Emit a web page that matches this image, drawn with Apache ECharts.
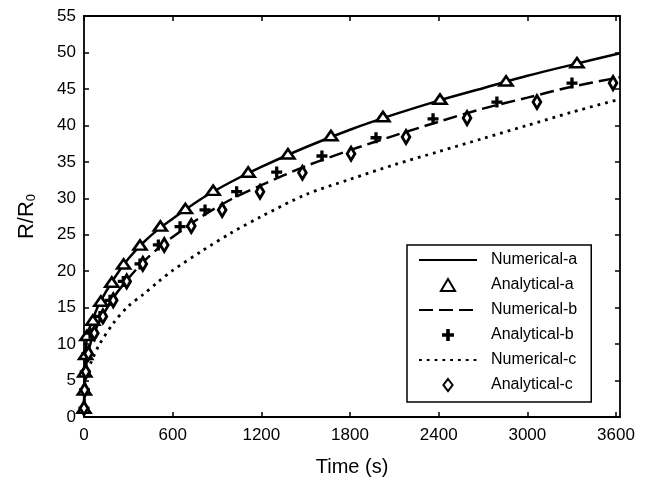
<!DOCTYPE html>
<html>
<head>
<meta charset="utf-8">
<script src="https://cdn.jsdelivr.net/npm/echarts@6/dist/echarts.min.js"></script>
<style>
html, body { margin: 0; padding: 0; background: #fff; }
#main { width: 650px; height: 477px; }
</style>
</head>
<body>
<div id="main"></div>
<script>
var myChart = echarts.init(document.getElementById('main'));

// x tick labels (s)
var xTicks = [0, 600, 1200, 1800, 2400, 3000, 3600];

// numerical curves, sampled times
var tLine = [0, 5, 20, 50, 100, 200, 300, 400, 500, 600, 800, 1000, 1200, 1500, 1800, 2100, 2400, 2700, 3000, 3300, 3627];
var numA = [1, 6, 11, 12.9, 15.4, 18.9, 21.7, 23.9, 25.7, 27.2, 30.0, 32.3, 34.3, 37.0, 39.4, 41.5, 43.4, 45.1, 46.8, 48.3, 49.9];
var numB = [1, 4.4, 7.8, 10.5, 12.9, 16.4, 19.0, 21.25, 23.1, 24.7, 27.55, 29.9, 31.8, 34.4, 36.6, 38.6, 40.5, 42.3, 43.8, 45.3, 46.6];
var numC = [1, 3.6, 6.2, 7.6, 9.8, 12.9, 15.2, 16.8, 18.5, 20.1, 22.8, 25.3, 27.5, 30.5, 32.6, 34.6, 36.4, 38.2, 40.0, 41.8, 43.6];

// analytical points
var tA = [0, 2, 5, 11, 20, 60, 114, 188, 268, 379, 517, 686, 874, 1111, 1380, 1671, 2023, 2409, 2856, 3336];
var rA = [1.2, 3.7, 6.2, 8.6, 11.2, 13.3, 15.9, 18.5, 21.0, 23.6, 26.2, 28.6, 31.1, 33.6, 36.1, 38.6, 41.2, 43.6, 46.1, 48.6];
var tB = [0, 3, 8, 20, 41, 108, 176, 266, 379, 503, 650, 819, 1033, 1304, 1610, 1976, 2362, 2794, 3302];
var rB = [1.2, 3.7, 6.2, 8.7, 11.5, 13.8, 16.0, 18.6, 21.0, 23.6, 26.1, 28.4, 30.9, 33.6, 35.8, 38.3, 40.9, 43.2, 45.8];
var tC = [0, 4, 12, 30, 70, 128, 198, 289, 398, 543, 726, 935, 1191, 1478, 1807, 2179, 2592, 3065, 3580];
var rC = [1.2, 3.7, 6.2, 8.7, 11.5, 13.8, 16.0, 18.6, 21.0, 23.6, 26.2, 28.4, 30.9, 33.5, 36.1, 38.4, 41.0, 43.2, 45.8];

function pairs(xs, ys) {
	var out = [];
	for (let i = 0; i < xs.length; i++) {
		out.push([xs[i], ys[i]]);
	}
	return out;
}

var font = 'Liberation Sans, Arial, sans-serif';
var plusPath = 'path://M3.5,0H6.5V3.5H10V6.5H6.5V10H3.5V6.5H0V3.5H3.5Z';
var triPath = 'path://M6.5,0L13,11H0Z';
var diaPath = 'path://M5,0L10,6.5L5,13L0,6.5Z';

var axisLine = { show: true, onZero: false, lineStyle: { color: '#000', width: 1.8 } };
var axisTick = { show: true, inside: true, length: 5, lineStyle: { color: '#000', width: 1.5 } };

option = {
	backgroundColor: '#fff',
	animation: false,
	grid: { left: 84, right: 30, top: 16, bottom: 60, outerBoundsMode: 'none', containLabel: false },
	legend: {
		orient: 'vertical',
		left: 407,
		top: 245,
		padding: [7, 14, 9, 11],
		itemWidth: 58,
		itemHeight: 12,
		itemGap: 9,
		borderColor: '#000',
		borderWidth: 1.5,
		backgroundColor: '#fff',
		textStyle: { fontFamily: font, fontSize: 16, color: '#000', padding: [0, 0, 0, 9] },
		data: [
			{ name: 'Numerical-a', itemStyle: { opacity: 0 } },
			'Analytical-a',
			{ name: 'Numerical-b', itemStyle: { opacity: 0 } },
			'Analytical-b',
			{ name: 'Numerical-c', itemStyle: { opacity: 0 } },
			'Analytical-c'
		]
	},
	xAxis: [{
		type: 'value',
		min: 0,
		max: 3627,
		interval: 600,
		name: 'Time (s)',
		nameLocation: 'middle',
		nameGap: 40,
		nameTextStyle: { fontFamily: font, fontSize: 20, color: '#000' },
		axisLine: axisLine,
		axisTick: axisTick,
		axisLabel: {
			fontFamily: font, fontSize: 17, color: '#000', margin: 10,
			showMaxLabel: false,
			formatter: function (v) { return xTicks.indexOf(v) >= 0 ? String(v) : ''; }
		},
		splitLine: { show: false }
	}, {
		type: 'value',
		position: 'top',
		min: 0,
		max: 3627,
		interval: 600,
		axisLine: axisLine,
		axisTick: axisTick,
		axisLabel: { show: false },
		splitLine: { show: false }
	}],
	yAxis: [{
		type: 'value',
		min: 0,
		max: 55,
		interval: 5,
		name: 'R/R{sub|0}',
		nameLocation: 'middle',
		nameGap: 46,
		nameTextStyle: {
			fontFamily: font, fontSize: 22, color: '#000',
			rich: { sub: { fontFamily: font, fontSize: 13, color: '#000', verticalAlign: 'bottom', padding: [10, 0, 0, 0] } }
		},
		axisLine: axisLine,
		axisTick: axisTick,
		axisLabel: { fontFamily: font, fontSize: 17, color: '#000', margin: 8 },
		splitLine: { show: false }
	}, {
		type: 'value',
		position: 'right',
		min: 0,
		max: 55,
		interval: 5,
		axisLine: axisLine,
		axisTick: axisTick,
		axisLabel: { show: false },
		splitLine: { show: false }
	}],
	series: [{
		name: 'Numerical-a',
		type: 'line',
		symbol: 'none',
		smooth: 0.3,
		lineStyle: { color: '#000', width: 2.5 },
		itemStyle: { color: '#000' },
		data: pairs(tLine, numA),
		z: 2
	}, {
		name: 'Analytical-a',
		type: 'scatter',
		symbol: triPath,
		symbolSize: [13, 11],
		symbolKeepAspect: true,
		itemStyle: { color: '#fff', borderColor: '#000', borderWidth: 2.6, opacity: 1 },
		data: pairs(tA, rA),
		z: 4
	}, {
		name: 'Numerical-b',
		type: 'line',
		symbol: 'none',
		smooth: 0.3,
		lineStyle: { color: '#000', width: 2.5, type: [14, 6] },
		itemStyle: { color: '#000' },
		data: pairs(tLine, numB),
		z: 2
	}, {
		name: 'Analytical-b',
		type: 'scatter',
		symbol: plusPath,
		symbolSize: 11,
		symbolKeepAspect: true,
		itemStyle: { color: '#000', opacity: 1 },
		data: pairs(tB, rB),
		z: 4
	}, {
		name: 'Numerical-c',
		type: 'line',
		symbol: 'none',
		smooth: 0.3,
		lineStyle: { color: '#000', width: 2.8, type: [2.8, 5] },
		itemStyle: { color: '#000' },
		data: pairs(tLine, numC),
		z: 2
	}, {
		name: 'Analytical-c',
		type: 'scatter',
		symbol: diaPath,
		symbolSize: [10, 13],
		symbolKeepAspect: true,
		itemStyle: { color: '#fff', borderColor: '#000', borderWidth: 3, opacity: 1 },
		data: pairs(tC, rC),
		z: 4
	}]
};

myChart.setOption(option);
</script>
</body>
</html>
